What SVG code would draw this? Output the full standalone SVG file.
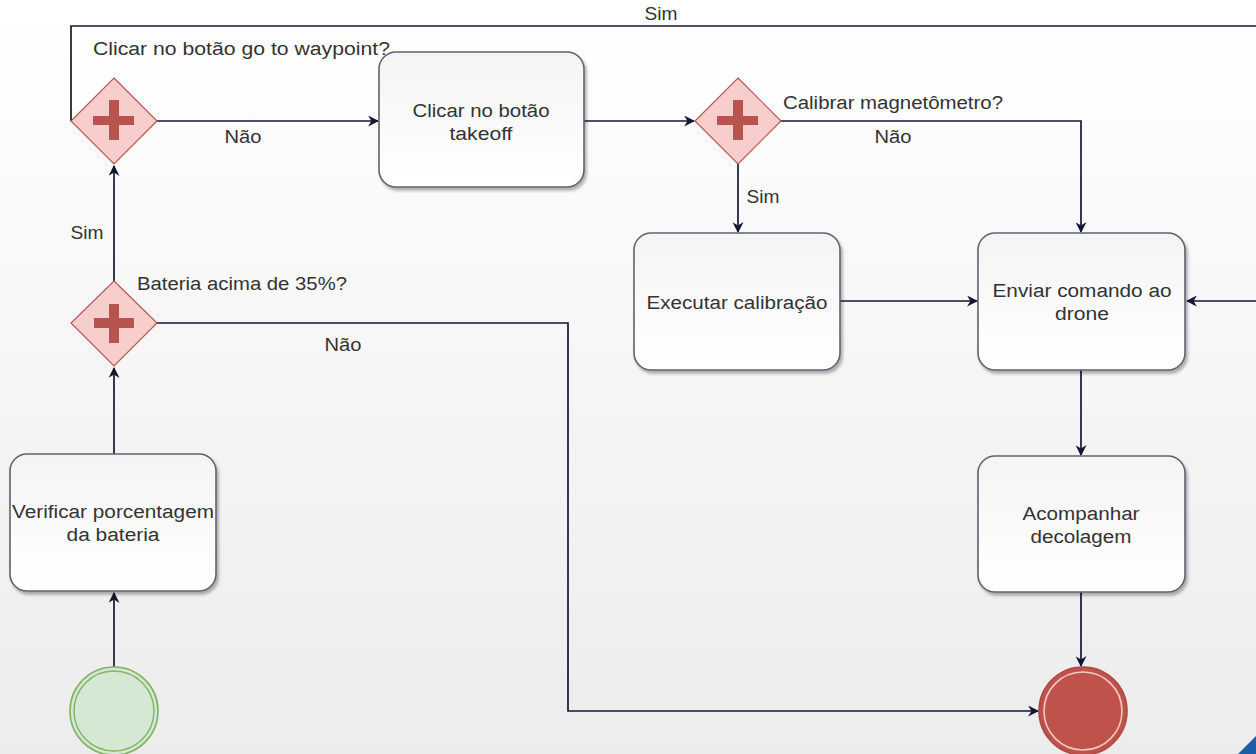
<svg xmlns="http://www.w3.org/2000/svg" width="1256" height="754" viewBox="0 0 1256 754">
  <defs>
    <linearGradient id="bg" x1="0" y1="0" x2="0" y2="1">
      <stop offset="0" stop-color="#ffffff"/>
      <stop offset="1" stop-color="#ececec"/>
    </linearGradient>
    <linearGradient id="taskFill" x1="0" y1="0" x2="0" y2="1">
      <stop offset="0" stop-color="#f4f4f4"/>
      <stop offset="1" stop-color="#ffffff"/>
    </linearGradient>
    <filter id="shadow" x="-10%" y="-10%" width="130%" height="130%">
      <feDropShadow dx="2" dy="3" stdDeviation="1.5" flood-color="#000" flood-opacity="0.3"/>
    </filter>
    <marker id="arrow" viewBox="0 0 10 10" refX="9" refY="5" markerWidth="11" markerHeight="11" markerUnits="userSpaceOnUse" orient="auto">
      <path d="M0,0 L10,5 L0,10 L3,5 Z" fill="#161634"/>
    </marker>
  </defs>
  <style>
    .edge { fill: none; stroke: #161634; stroke-width: 1.7; }
    .task { fill: url(#taskFill); stroke: #5f6370; stroke-width: 1.6; filter: url(#shadow); }
    .gw { fill: #f8cecc; stroke: #b85450; stroke-width: 1.2; }
    .cross { fill: #b85450; }
    .t { font-family: "Liberation Sans", Arial, sans-serif; font-size: 18px; fill: #333; }
    .c { text-anchor: middle; }
  </style>

  <rect width="1256" height="754" fill="url(#bg)"/>

  <!-- connectors -->
  <g id="connectors">
    <path class="edge" d="M114,667 V593" marker-end="url(#arrow)"/>
    <path class="edge" d="M114,454 V368" marker-end="url(#arrow)"/>
    <path class="edge" d="M114,281 V166" marker-end="url(#arrow)"/>
    <path class="edge" d="M157,121 H378" marker-end="url(#arrow)"/>
    <path class="edge" d="M71,121 V26 H1256"/>
    <path class="edge" d="M1256,301 H1187" marker-end="url(#arrow)"/>
    <path class="edge" d="M157,323 H568 V711 H1038" marker-end="url(#arrow)"/>
    <path class="edge" d="M584,121 H694" marker-end="url(#arrow)"/>
    <path class="edge" d="M781,121 H1081 V232" marker-end="url(#arrow)"/>
    <path class="edge" d="M738,164 V232" marker-end="url(#arrow)"/>
    <path class="edge" d="M840,301 H977" marker-end="url(#arrow)"/>
    <path class="edge" d="M1081,370 V455" marker-end="url(#arrow)"/>
    <path class="edge" d="M1081,592 V666" marker-end="url(#arrow)"/>

    <text class="t c" x="661" y="20" textLength="33" lengthAdjust="spacingAndGlyphs">Sim</text>
    <text class="t c" x="243" y="143" textLength="37" lengthAdjust="spacingAndGlyphs">Não</text>
    <text class="t c" x="87" y="239" textLength="33" lengthAdjust="spacingAndGlyphs">Sim</text>
    <text class="t c" x="343" y="351" textLength="37" lengthAdjust="spacingAndGlyphs">Não</text>
    <text class="t c" x="893" y="143" textLength="37" lengthAdjust="spacingAndGlyphs">Não</text>
    <text class="t c" x="763" y="203" textLength="33" lengthAdjust="spacingAndGlyphs">Sim</text>
  </g>

  <!-- start event -->
  <g id="start">
    <circle cx="114" cy="711" r="44" fill="#d5e8d4" stroke="#82b366" stroke-width="1.6"/>
    <circle cx="114" cy="711" r="40" fill="none" stroke="#82b366" stroke-width="1.4"/>
  </g>

  <!-- end event -->
  <g id="end">
    <circle cx="1083" cy="711" r="44" fill="#c0524c" stroke="#b04a44" stroke-width="1.6"/>
    <circle cx="1083" cy="711" r="39" fill="none" stroke="#f6c9c3" stroke-width="1.6"/>
  </g>

  <g id="verificar">
    <rect class="task" x="10" y="454" width="206" height="137" rx="17"/>
    <text class="t c" x="113" y="518" textLength="202" lengthAdjust="spacingAndGlyphs">Verificar porcentagem</text>
    <text class="t c" x="113" y="541" textLength="93" lengthAdjust="spacingAndGlyphs">da bateria</text>
  </g>

  <g id="gw-bateria">
    <path class="gw" d="M114,281 L157,323 L114,366 L71,323 Z"/>
    <path class="cross" d="M109,304 H119 V318 H134 V328 H119 V343 H109 V328 H94 V318 H109 Z"/>
    <text class="t" x="137" y="290" textLength="210" lengthAdjust="spacingAndGlyphs">Bateria acima de 35%?</text>
  </g>

  <g id="gw-waypoint">
    <path class="gw" d="M114,78 L157,121 L114,164 L71,121 Z"/>
    <path class="cross" d="M109,100 H119 V116 H134 V125 H119 V140 H109 V125 H93 V116 H109 Z"/>
    <text class="t" x="93" y="55" textLength="297" lengthAdjust="spacingAndGlyphs">Clicar no botão go to waypoint?</text>
  </g>

  <g id="takeoff">
    <rect class="task" x="379" y="52" width="205" height="135" rx="17"/>
    <text class="t c" x="481" y="117" textLength="137" lengthAdjust="spacingAndGlyphs">Clicar no botão</text>
    <text class="t c" x="481" y="140" textLength="63" lengthAdjust="spacingAndGlyphs">takeoff</text>
  </g>

  <g id="gw-magnetometro">
    <path class="gw" d="M738,78 L781,121 L738,164 L695,121 Z"/>
    <path class="cross" d="M733,100 H743 V116 H758 V125 H743 V140 H733 V125 H717 V116 H733 Z"/>
    <text class="t" x="783" y="109" textLength="220" lengthAdjust="spacingAndGlyphs">Calibrar magnetômetro?</text>
  </g>

  <g id="calibracao">
    <rect class="task" x="634" y="233" width="206" height="137" rx="17"/>
    <text class="t c" x="737" y="309" textLength="181" lengthAdjust="spacingAndGlyphs">Executar calibração</text>
  </g>

  <g id="enviar">
    <rect class="task" x="978" y="233" width="207" height="137" rx="17"/>
    <text class="t c" x="1082" y="297" textLength="179" lengthAdjust="spacingAndGlyphs">Enviar comando ao</text>
    <text class="t c" x="1082" y="320" textLength="54" lengthAdjust="spacingAndGlyphs">drone</text>
  </g>

  <g id="acompanhar">
    <rect class="task" x="978" y="456" width="207" height="136" rx="17"/>
    <text class="t c" x="1081" y="520" textLength="117" lengthAdjust="spacingAndGlyphs">Acompanhar</text>
    <text class="t c" x="1081" y="543" textLength="101" lengthAdjust="spacingAndGlyphs">decolagem</text>
  </g>

  <!-- corner accent -->
  <path d="M1256,736 L1256,754 L1238,754 Z" fill="#1c5fa8"/>
</svg>
